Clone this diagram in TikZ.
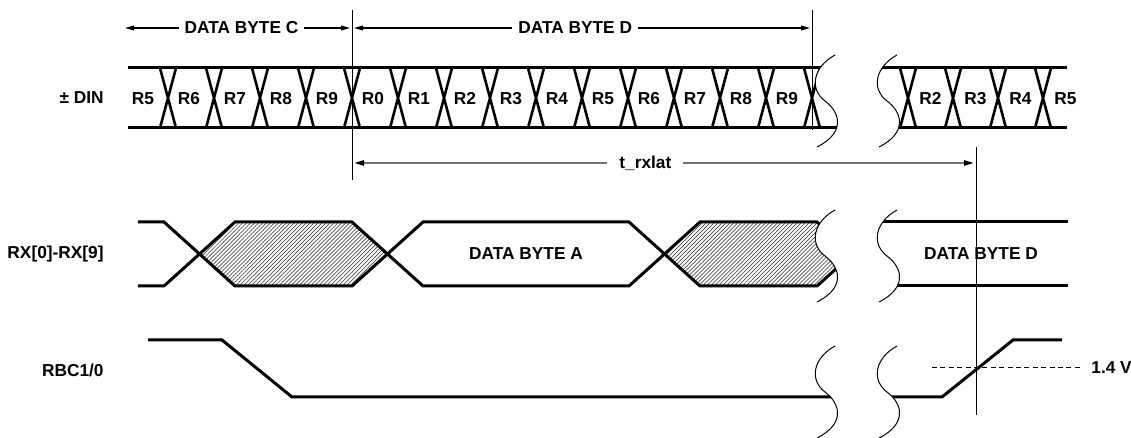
\documentclass[tikz,border=0pt]{standalone}
\usepackage{fontspec}
\setmainfont{Liberation Sans}
\usetikzlibrary{arrows.meta}
\usetikzlibrary{patterns.meta}
\newcommand{\brk}[2]{(#1+20,#2) .. controls (#1-2,#2+12) and (#1-6,#2+34) .. (#1+10,#2+46) .. controls (#1+26,#2+58) and (#1+30,#2+78) .. (#1+2,#2+92)}
\newcommand{\gapclip}[1]{\clip (0,#1-60) -- (835,#1-60) -- \brk{815}{#1} -- (817,#1+152) -- (0,#1+152) -- cycle
  (1131,#1-60) -- (897,#1-60) -- \brk{877}{#1} -- (879,#1+152) -- (1131,#1+152) -- cycle;}

\begin{document}
\begin{tikzpicture}[x=0.5pt, y=-0.5pt,
  bus/.style={line width=1.5pt},
  xline/.style={line width=1.3pt},
  thin/.style={line width=0.5pt},
  dimarrow/.style={line width=0.6pt, {Triangle[length=4.5pt,width=2.4pt]}-{Triangle[length=4.5pt,width=2.4pt]}},
  latarrow/.style={draw=black!55, line width=1pt, {Triangle[length=5pt,width=2.6pt,color=black]}-{Triangle[length=5pt,width=2.6pt,color=black]}},
  lbl/.style={font=\fontsize{8.65}{10}\selectfont\bfseries, inner sep=0pt},
  hatch/.style={pattern={Lines[angle=45,distance=1.4pt,line width=0.35pt]}, pattern color=black!70}]
  \useasboundingbox (0,0) rectangle (1131,438);

  % signal names
  \node[lbl, anchor=east] (din) at (104,98) {± DIN};
  \node[lbl, anchor=east] (rx) at (104,254) {RX[0]-RX[9]};
  \node[lbl, anchor=east] (rbc) at (104,370) {RBC1/0};

  % serial input
  \begin{scope}
    \gapclip{55}
    \draw[bus] (128,68) -- (1067,68) (128,128) -- (1067,128);
    \foreach \c in {168,214,...,812}
      \draw[xline] (\c-8,68) -- (\c+8,128) (\c-8,128) -- (\c+8,68);
    \foreach \c in {908,953,998,1043}
      \draw[xline] (\c-8,68) -- (\c+8,128) (\c-8,128) -- (\c+8,68);
  \end{scope}
  \foreach \r [count=\i] in {5,6,7,8,9,0,1,2,3,4,5,6,7,8,9}
    \node[lbl, anchor=base] (d\i) at (97+46*\i,104.2) {R\r};
  \foreach \r [count=\i] in {2,3,4,5}
    \node[lbl, anchor=base] (e\i) at (885.5+45*\i,104.2) {R\r};

  % parallel output
  \begin{scope}
    \gapclip{210}
    \fill[hatch] (200,254) -- (235,222) -- (352,222) -- (387,254) -- (352,286) -- (235,286) -- cycle;
    \fill[hatch] (664.5,254) -- (700,222) -- (817,222) -- (852.5,254) -- (817,286) -- (700,286) -- cycle;
    \draw[bus] (138,222) -- (164,222) -- (235,286) -- (352,286) -- (423,222) -- (629,222) -- (700,286) -- (817,286) -- (852.5,254);
    \draw[bus] (138,286) -- (164,286) -- (235,222) -- (352,222) -- (423,286) -- (629,286) -- (700,222) -- (817,222) -- (852.5,254);
    \draw[bus] (860,222) -- (1068,222) (860,286) -- (1068,286);
  \end{scope}
  \node[lbl] (bytea) at (526,254) {DATA BYTE A};
  \node[lbl] (bytedd) at (981,254) {DATA BYTE D};

  % byte clock
  \begin{scope}
    \gapclip{346}
    \draw[bus] (148,340) -- (222,340) -- (292,397) -- (860,397) -- (942,397) -- (1013,340) -- (1062,340);
  \end{scope}

  \foreach \yy in {55,210,346}
    \draw[thin] \brk{815}{\yy} \brk{877}{\yy};

  % markers
  \coordinate (v1t) at (352,10);
  \coordinate (v1b) at (352,180);
  \coordinate (v2t) at (812,10);
  \coordinate (v2b) at (812,130);
  \coordinate (v3t) at (976,147);
  \coordinate (v3b) at (976,415);
  \draw[thin] (v1t) -- (v1b);
  \draw[thin] (v2t) -- (v2b);
  \draw[thin] (v3t) -- (v3b);

  \coordinate (cl) at (125,28);
  \coordinate (cr) at (350,28);
  \coordinate (dl) at (354,28);
  \coordinate (dr) at (810,28);
  \coordinate (ll) at (354,163);
  \coordinate (lr) at (974,163);
  \draw[dimarrow] (cl) -- (cr) node[lbl, pos=0.518, fill=white, inner xsep=3pt, inner ysep=1pt] (bytec) {DATA BYTE C};
  \draw[dimarrow] (dl) -- (dr) node[lbl, pos=0.485, fill=white, inner xsep=3pt, inner ysep=1pt] (byted) {DATA BYTE D};
  \draw[latarrow] (ll) -- (lr) node[lbl, pos=0.47, fill=white, inner xsep=6pt, inner ysep=1pt] (lat) {t\_rxlat};

  % threshold
  \coordinate (th) at (932,368);
  \node[lbl, anchor=west] (volt) at (1091,368) {1.4 V};
  \draw[thin, dash pattern=on 2.5pt off 1.7pt] (th) -- ([xshift=-4pt]volt.west);
\end{tikzpicture}
\end{document}
